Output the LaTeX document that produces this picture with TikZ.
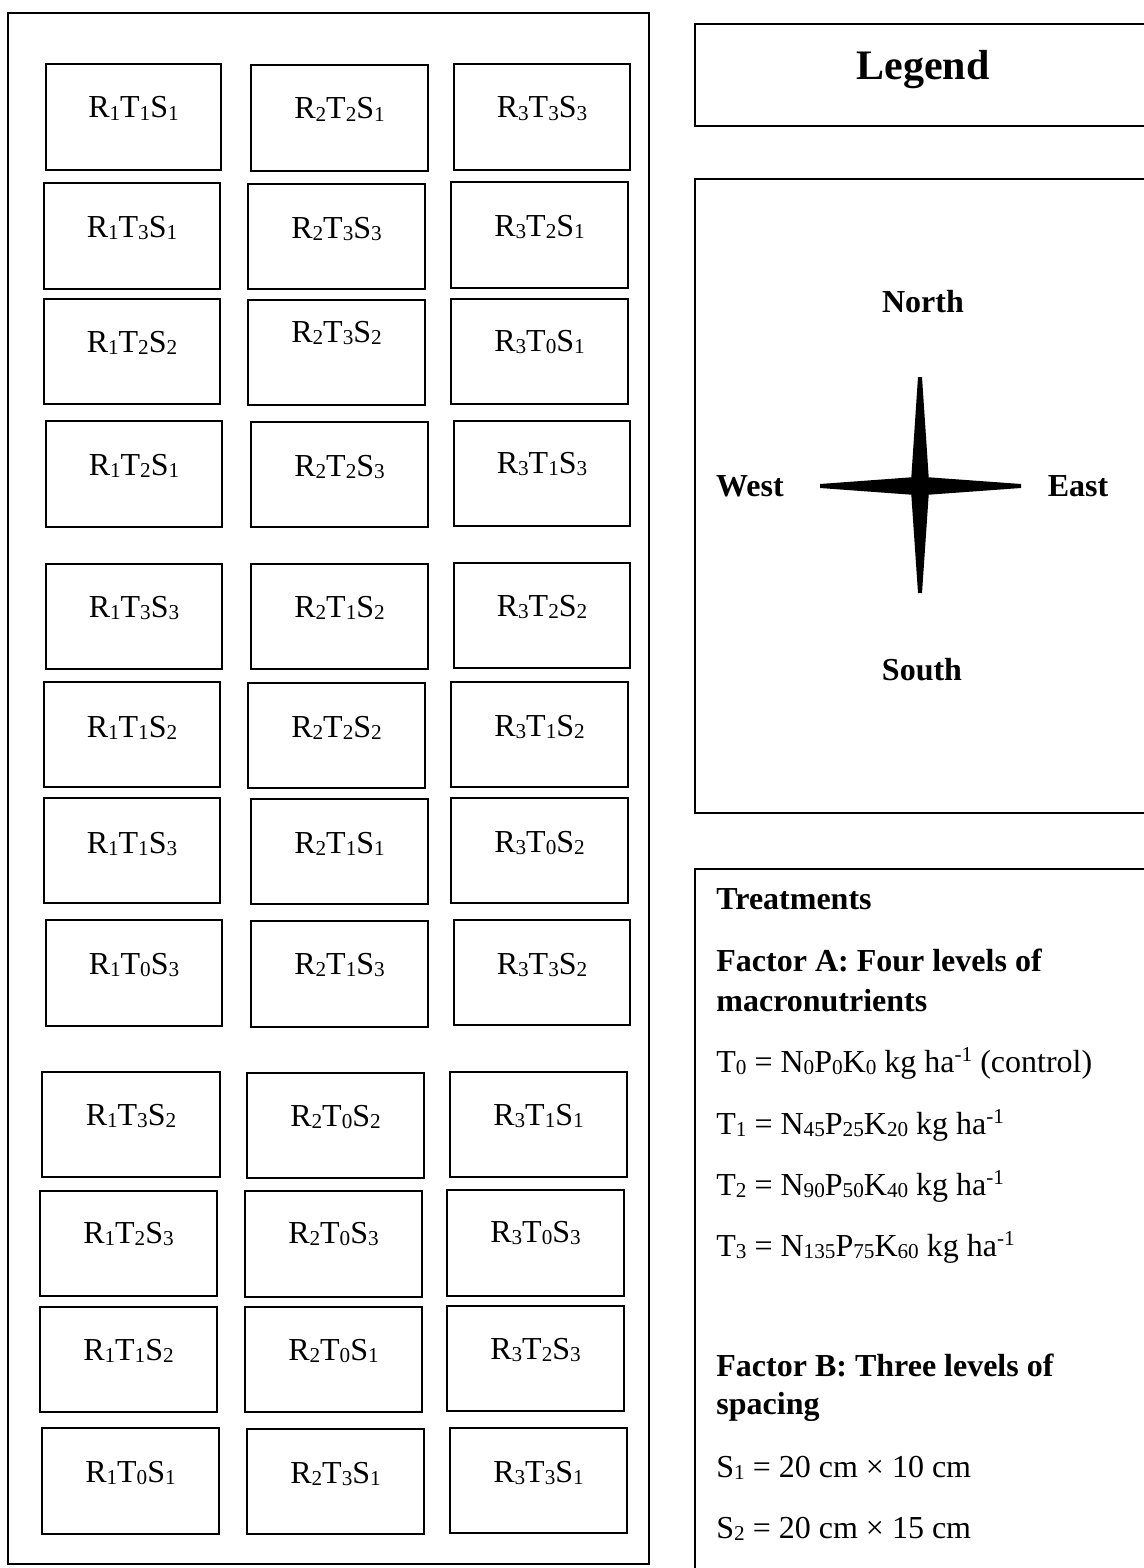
\documentclass[tikz,border=0pt]{standalone}
\usepackage{fontspec}
\setmainfont{Liberation Serif}

% word-processor style sub- and superscripts at two thirds size
\newcommand\sbx[1]{\raisebox{-1.2pt}{\fontsize{10.6pt}{10.6pt}\selectfont #1}}
\newcommand\spx[1]{\raisebox{5.4pt}{\fontsize{10.6pt}{10.6pt}\selectfont #1}}
% treatment code R_i T_j S_k
\newcommand\trt[3]{R\sbx{#1}T\sbx{#2}S\sbx{#3}}
% bordered rectangle node: name, x1, y1, x2, y2
\newcommand\panelbox[5]{%
  \node[boxline, minimum width={(#4-#2)*0.5pt}, minimum height={(#5-#3)*0.5pt}]
    (#1) at ({(#2+#4)/2},{(#3+#5)/2}) {};}
% field plot: name, x1, y1, x2, y2, label, baseline drop from top edge
\newcommand\fieldplot[7]{%
  \panelbox{#1}{#2}{#3}{#4}{#5}%
  \node[plotlabel, anchor=base] (#1-t) at ({(#2+#4)/2},{#3+#7}) {#6};}

\begin{document}
\begin{tikzpicture}[x=0.5pt, y=-0.5pt,
  boxline/.style={draw=black, line width=1pt, rectangle, inner sep=0pt, outer sep=0pt},
  plotlabel/.style={font=\fontsize{16pt}{19pt}\selectfont, inner sep=0pt},
  dirlabel/.style={font=\fontsize{16pt}{19pt}\selectfont\bfseries, inner sep=0pt, anchor=base},
  bodytext/.style={font=\fontsize{16pt}{19pt}\selectfont, inner sep=0pt, anchor=base west},
  headtext/.style={font=\fontsize{16pt}{19pt}\selectfont\bfseries, inner sep=0pt, anchor=base west}]

\useasboundingbox (0,0) rectangle (1144,1568);
\clip (0,0) rectangle (1144,1568);

% experimental field
\panelbox{field}{8}{13}{649}{1564}

% plots, row by row
\fieldplot{p1a}{46}{64}{221}{170}{\trt111}{54}
\fieldplot{p1b}{251}{65}{428}{171}{\trt221}{54}
\fieldplot{p1c}{454}{64}{630}{170}{\trt333}{54}

\fieldplot{p2a}{44}{183}{220}{289}{\trt131}{54}
\fieldplot{p2b}{248}{184}{425}{289}{\trt233}{54}
\fieldplot{p2c}{451}{182}{628}{288}{\trt321}{54}

\fieldplot{p3a}{44}{299}{220}{404}{\trt122}{53}
\fieldplot{p3b}{248}{300}{425}{405}{\trt232}{42}
\fieldplot{p3c}{451}{299}{628}{404}{\trt301}{52}

\fieldplot{p4a}{46}{421}{222}{527}{\trt121}{54}
\fieldplot{p4b}{251}{422}{428}{527}{\trt223}{54}
\fieldplot{p4c}{454}{421}{630}{526}{\trt313}{52}

\fieldplot{p5a}{46}{564}{222}{669}{\trt133}{53}
\fieldplot{p5b}{251}{564}{428}{669}{\trt212}{53}
\fieldplot{p5c}{454}{563}{630}{668}{\trt322}{53}

\fieldplot{p6a}{44}{682}{220}{787}{\trt112}{55}
\fieldplot{p6b}{248}{683}{425}{788}{\trt222}{54}
\fieldplot{p6c}{451}{682}{628}{787}{\trt312}{54}

\fieldplot{p7a}{44}{798}{220}{903}{\trt113}{55}
\fieldplot{p7b}{251}{799}{428}{904}{\trt211}{54}
\fieldplot{p7c}{451}{798}{628}{903}{\trt302}{54}

\fieldplot{p8a}{46}{920}{222}{1026}{\trt103}{54}
\fieldplot{p8b}{251}{921}{428}{1027}{\trt213}{53}
\fieldplot{p8c}{454}{920}{630}{1025}{\trt332}{54}

\fieldplot{p9a}{42}{1072}{220}{1177}{\trt132}{53}
\fieldplot{p9b}{247}{1073}{424}{1178}{\trt202}{53}
\fieldplot{p9c}{450}{1072}{627}{1177}{\trt311}{53}

\fieldplot{p10a}{40}{1191}{217}{1296}{\trt123}{52}
\fieldplot{p10b}{245}{1191}{422}{1297}{\trt203}{52}
\fieldplot{p10c}{447}{1190}{624}{1296}{\trt303}{52}

\fieldplot{p11a}{40}{1307}{217}{1412}{\trt112}{53}
\fieldplot{p11b}{245}{1307}{422}{1412}{\trt201}{53}
\fieldplot{p11c}{447}{1306}{624}{1411}{\trt323}{53}

\fieldplot{p12a}{42}{1428}{219}{1534}{\trt101}{54}
\fieldplot{p12b}{247}{1429}{424}{1534}{\trt231}{54}
\fieldplot{p12c}{450}{1428}{627}{1533}{\trt331}{54}

% legend title panel
\panelbox{legend}{695}{24}{1160}{126}
\node[font=\fontsize{21pt}{25pt}\selectfont\bfseries, inner sep=0pt, anchor=base]
  (legendtitle) at (923,80) {Legend};

% compass panel
\panelbox{compassbox}{695}{179}{1160}{813}
\coordinate (compass) at (920,486);
\fill[black, shift={(compass)}]
  (-2,-109) -- (2,-109) -- (8.7,-8.7) -- (101,-2) -- (101,2) -- (8.7,8.7)
  -- (2,107) -- (-2,107) -- (-8.7,8.7) -- (-100,2) -- (-100,-2) -- (-8.7,-8.7) -- cycle;
\node[dirlabel] (north) at (923,312) {North};
\node[dirlabel] (south) at (922,680) {South};
\node[dirlabel] (west) at (750,496) {West};
\node[dirlabel] (east) at (1078,496) {East};

% treatments panel
\panelbox{treatbox}{695}{869}{1160}{1620}
\node[headtext] (th) at (716,909) {Treatments};
\node[headtext] (fa1) at (716,971) {Factor A: Four levels of};
\node[headtext] (fa2) at (716,1011) {macronutrients};
\node[bodytext] (t0) at (716,1072) {T\sbx{0} = N\sbx{0}P\sbx{0}K\sbx{0} kg ha\spx{-1} (control)};
\node[bodytext] (t1) at (716,1134) {T\sbx{1} = N\sbx{45}P\sbx{25}K\sbx{20} kg ha\spx{-1}};
\node[bodytext] (t2) at (716,1195) {T\sbx{2} = N\sbx{90}P\sbx{50}K\sbx{40} kg ha\spx{-1}};
\node[bodytext] (t3) at (716,1256) {T\sbx{3} = N\sbx{135}P\sbx{75}K\sbx{60} kg ha\spx{-1}};
\node[headtext] (fb1) at (716,1376) {Factor B: Three levels of};
\node[headtext] (fb2) at (716,1414) {spacing};
\node[bodytext] (s1) at (716,1477) {S\sbx{1} = 20 cm × 10 cm};
\node[bodytext] (s2) at (716,1538) {S\sbx{2} = 20 cm × 15 cm};

\end{tikzpicture}
\end{document}
